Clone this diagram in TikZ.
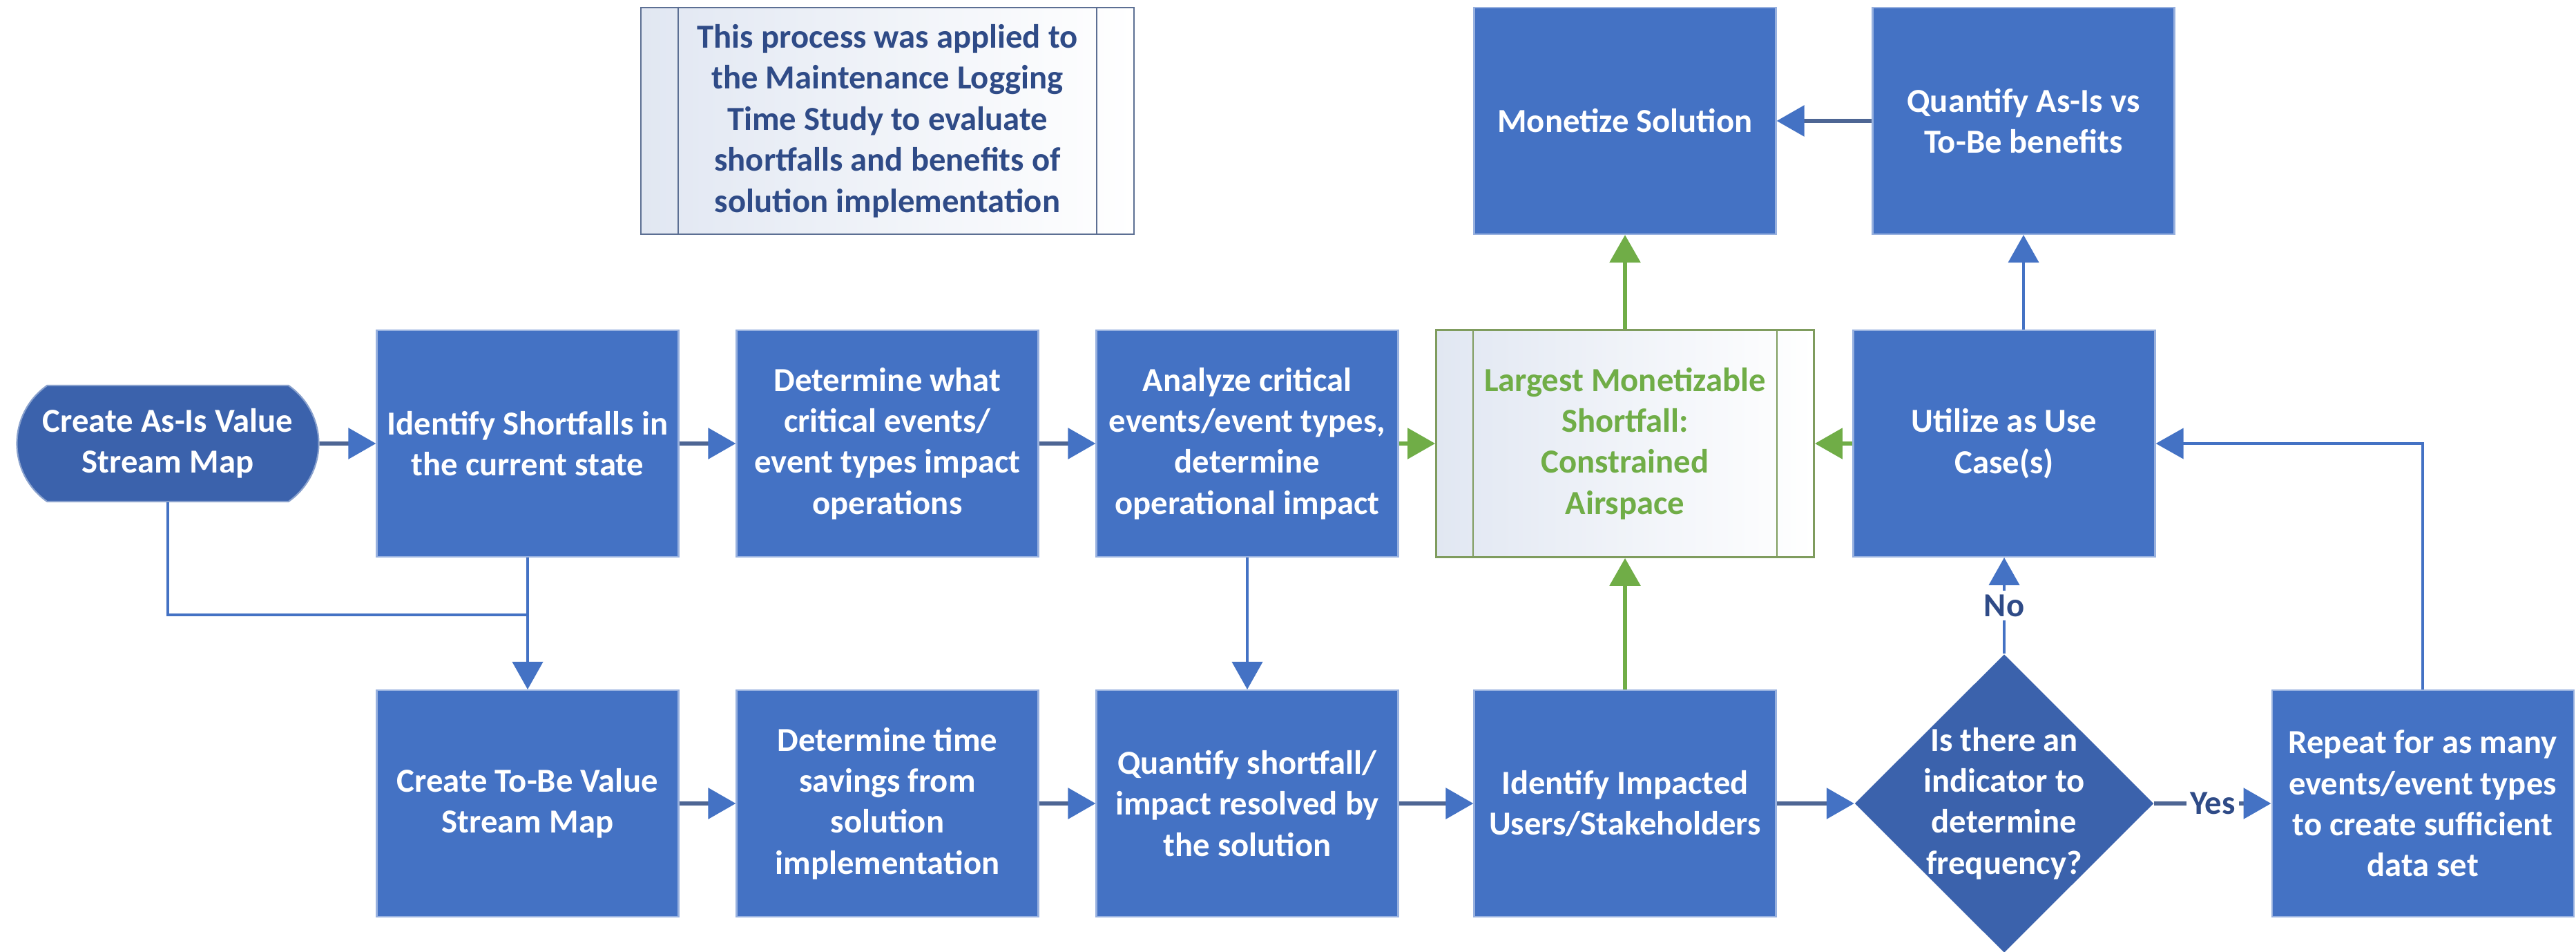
\documentclass[tikz,border=0pt]{standalone}
\usepackage{fontspec}
\setmainfont{Carlito}
\usetikzlibrary{arrows.meta,positioning,shapes.geometric,shapes.misc}

\definecolor{boxblue}{HTML}{4472C4}
\definecolor{darkblue}{HTML}{3B62AC}
\definecolor{linegrey}{HTML}{4E6694}
\definecolor{okgreen}{HTML}{70AD47}
\definecolor{edgegreen}{HTML}{7F9C5E}
\definecolor{notetext}{HTML}{2F4B87}
\definecolor{noteedge}{HTML}{5C6F93}
\definecolor{fadeblue}{HTML}{E1E7F2}

\begin{document}
\begin{tikzpicture}[node distance=5.21cm,
    every node/.style={font=\fontsize{13.85pt}{16.9pt}\selectfont\bfseries,align=center},
    process/.style={rectangle,fill=boxblue,draw=boxblue!55!white,line width=0.6pt,
                    text=white,minimum width=4.37cm,minimum height=3.28cm,inner sep=0pt},
    terminal/.style={rounded rectangle,rounded rectangle arc length=110,fill=darkblue,
                     draw=darkblue!60!white,line width=0.6pt,text=white,
                     minimum width=4.37cm,minimum height=1.68cm,inner sep=0pt},
    decision/.style={diamond,fill=darkblue,minimum width=4.33cm,minimum height=4.32cm,inner sep=0pt},
    shortfallbox/.style={rectangle,draw=edgegreen,line width=0.8pt,left color=fadeblue,right color=white,
                         text=okgreen,minimum width=5.47cm,minimum height=3.29cm,inner sep=0pt},
    notebox/.style={rectangle,draw=noteedge,line width=0.8pt,left color=fadeblue,right color=white,
                    text=notetext,minimum width=7.14cm,minimum height=3.28cm,inner sep=0pt},
    flow/.style={color=linegrey,line width=1.7pt,-{Triangle[length=0.4cm,width=0.44cm,color=boxblue]}},
    link/.style={color=boxblue,line width=1.1pt,-{Triangle[length=0.4cm,width=0.44cm]}},
    gflow/.style={color=okgreen,line width=1.6pt,-{Triangle[length=0.4cm,width=0.44cm]}},
    tag/.style={fill=white,text=notetext,inner sep=1.5pt}]

  \path[fill=white,use as bounding box] (0,0) rectangle (37.3,-13.77);

  \node[terminal]     (asis)       at (2.43,-6.42)  {Create As-Is Value\\Stream Map};
  \node[process]      (shortfalls) [right of=asis]  {Identify Shortfalls in\\the current state};
  \node[process]      (events)     [right of=shortfalls] {Determine what\\critical events/\\event types impact\\operations};
  \node[process]      (analyze)    [right of=events] {Analyze critical\\events/event types,\\determine\\operational impact};
  \node[shortfallbox] (largest)    [right of=analyze,xshift=0.26cm] {Largest Monetizable\\Shortfall:\\Constrained\\Airspace};
  \node[process]      (usecase)    [right of=largest,xshift=0.28cm] {Utilize as Use\\Case(s)};

  \node[notebox]      (study)      [above of=events,yshift=-0.54cm] {This process was applied to\\the Maintenance Logging\\Time Study to evaluate\\shortfalls and benefits of\\solution implementation};
  \node[process]      (monetize)   [above of=largest,yshift=-0.54cm] {Monetize Solution};
  \node[process]      (asisvs)     [above of=usecase,xshift=0.28cm,yshift=-0.54cm] {Quantify As-Is vs\\To-Be benefits};

  \node[process]      (tobe)       [below of=shortfalls] {Create To-Be Value\\Stream Map};
  \node[process]      (savings)    [below of=events] {Determine time\\savings from\\solution\\implementation};
  \node[process]      (resolved)   [below of=analyze] {Quantify shortfall/\\impact resolved by\\the solution};
  \node[process]      (users)      [below of=largest] {Identify Impacted\\Users/Stakeholders};
  \node[decision]     (freq)       [below of=usecase,
                                    label={[text=white]center:{Is there an\\indicator to\\determine\\frequency?}}] {};
  \node[process]      (moreevents) [right of=freq,xshift=0.85cm] {Repeat for as many\\events/event types\\to create sufficient\\data set};

  \draw[edgegreen,line width=0.6pt]
        ([xshift=0.55cm]largest.north west) -- ([xshift=0.55cm]largest.south west)
        ([xshift=-0.55cm]largest.north east) -- ([xshift=-0.55cm]largest.south east);
  \draw[noteedge,line width=0.6pt]
        ([xshift=0.55cm]study.north west) -- ([xshift=0.55cm]study.south west)
        ([xshift=-0.55cm]study.north east) -- ([xshift=-0.55cm]study.south east);

  \path[flow] (asis)       edge (shortfalls)
              (shortfalls) edge (events)
              (events)     edge (analyze)
              (tobe)       edge (savings)
              (savings)    edge (resolved)
              (resolved)   edge (users)
              (users)      edge (freq)
              (asisvs)     edge (monetize)
              (freq)       edge node[tag] {Yes} (moreevents);

  \path[gflow] (analyze) edge (largest)
               (usecase) edge (largest)
               (largest) edge (monetize)
               (users)   edge (largest);

  \path[link] (shortfalls) edge (tobe)
              (analyze)    edge (resolved)
              ([xshift=0.28cm]usecase.north) edge (asisvs.south)
              (freq)       edge node[tag] {No} (usecase);

  \draw[link,-] (asis.south) |- ([yshift=-0.83cm]shortfalls.south);
  \draw[link] (moreevents.north) |- (usecase.east);
\end{tikzpicture}
\end{document}
